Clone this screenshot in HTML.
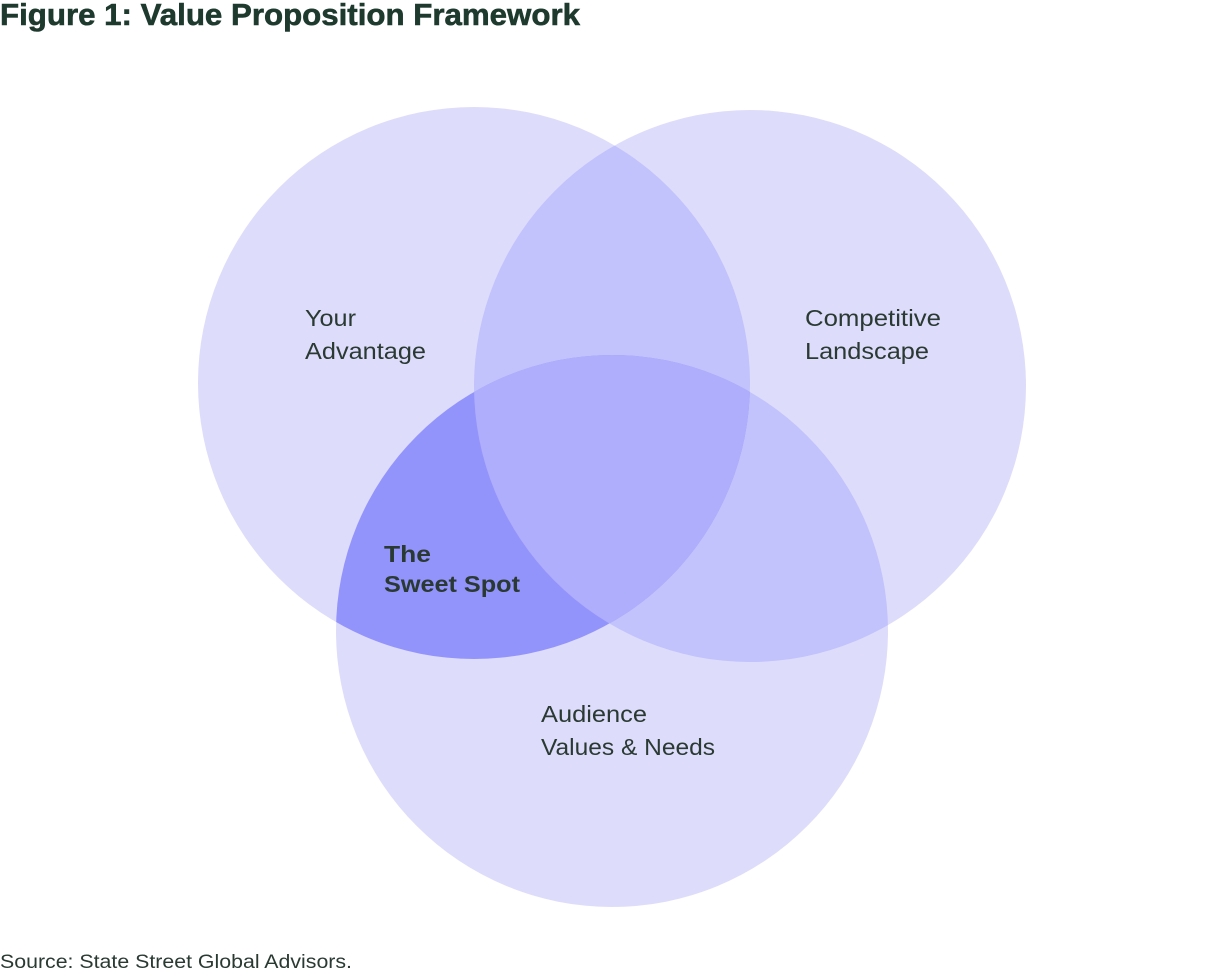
<!DOCTYPE html>
<html><head><meta charset="utf-8"><style>
html,body{margin:0;padding:0;background:#fff;}
svg{display:block}
text{font-family:"Liberation Sans",sans-serif;}
</style></head><body>
<svg width="1220" height="978" viewBox="0 0 1220 978" xmlns="http://www.w3.org/2000/svg">
<defs>
<clipPath id="cL"><circle cx="474" cy="383" r="276"/></clipPath>
<clipPath id="cR"><circle cx="750" cy="386" r="276"/></clipPath>
<clipPath id="cB"><circle cx="612" cy="631" r="276"/></clipPath>
</defs>
<rect width="1220" height="978" fill="#fff"/>
<text x="0" y="25" font-size="31" font-weight="bold" fill="#1e3a2f" stroke="#1e3a2f" stroke-width="0.6" textLength="580" lengthAdjust="spacingAndGlyphs">Figure 1: Value Proposition Framework</text>
<circle cx="474" cy="383" r="276" fill="#dddcfb"/>
<circle cx="750" cy="386" r="276" fill="#dddcfb"/>
<circle cx="612" cy="631" r="276" fill="#dddcfb"/>
<g clip-path="url(#cL)"><circle cx="750" cy="386" r="276" fill="#c2c2fc"/></g>
<g clip-path="url(#cR)"><circle cx="612" cy="631" r="276" fill="#c2c2fc"/></g>
<g clip-path="url(#cL)"><circle cx="612" cy="631" r="276" fill="#9393fc"/></g>
<g clip-path="url(#cL)"><g clip-path="url(#cR)"><circle cx="612" cy="631" r="276" fill="#aeaefc"/></g></g>
<g font-size="23" fill="#2a3a33">
<text x="305" y="326" textLength="51" lengthAdjust="spacingAndGlyphs">Your</text>
<text x="305" y="359" textLength="121" lengthAdjust="spacingAndGlyphs">Advantage</text>
<text x="805" y="326" textLength="136" lengthAdjust="spacingAndGlyphs">Competitive</text>
<text x="805" y="359" textLength="124" lengthAdjust="spacingAndGlyphs">Landscape</text>
<text x="541" y="722" textLength="106" lengthAdjust="spacingAndGlyphs">Audience</text>
<text x="541" y="755" textLength="174" lengthAdjust="spacingAndGlyphs">Values &amp; Needs</text>
<text x="384" y="562" font-weight="bold" textLength="47" lengthAdjust="spacingAndGlyphs">The</text>
<text x="384" y="592" font-weight="bold" textLength="136" lengthAdjust="spacingAndGlyphs">Sweet Spot</text>
</g>
<text x="0" y="968" font-size="19" fill="#2a3a33" textLength="352" lengthAdjust="spacingAndGlyphs">Source: State Street Global Advisors.</text>
</svg>
</body></html>
